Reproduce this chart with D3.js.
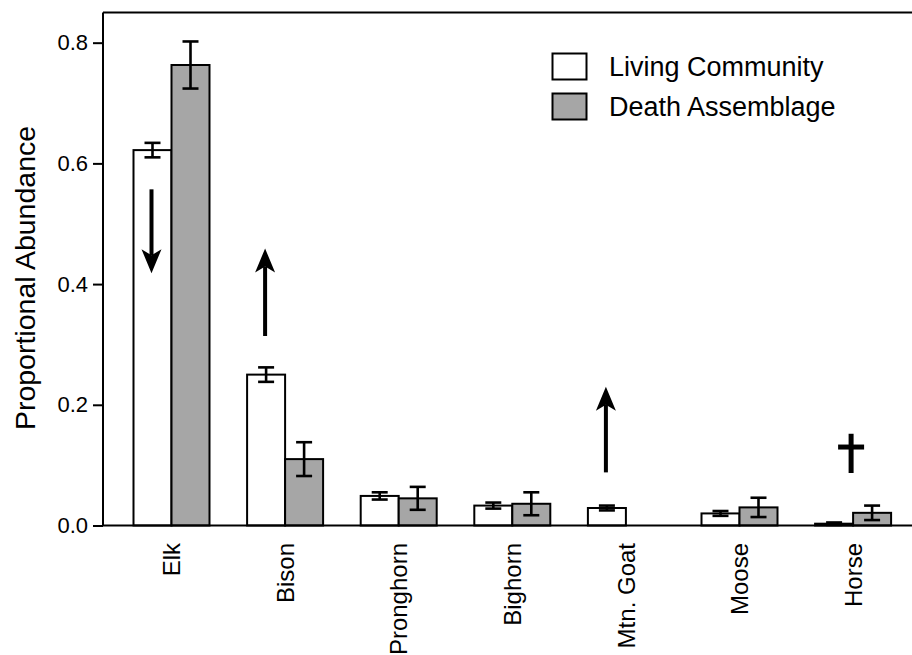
<!DOCTYPE html>
<html>
<head>
<meta charset="utf-8">
<script src="https://cdn.jsdelivr.net/npm/d3@7"></script>
<style>
  html, body { margin: 0; padding: 0; background: #fff; }
  svg { display: block; font-family: "Liberation Sans", Arial, sans-serif; }
</style>
</head>
<body>
<svg id="chart" width="912" height="655"></svg>
<script>
const categories = ["Elk", "Bison", "Pronghorn", "Bighorn", "Mtn. Goat", "Moose", "Horse"];
const seriesNames = ["Living Community", "Death Assemblage"];
const livingValues = [0.622, 0.250, 0.049, 0.033, 0.029, 0.020, 0.003];
const livingErrors = [0.012, 0.012, 0.006, 0.005, 0.004, 0.004, 0.002];
const deathValues  = [0.763, 0.110, 0.045, 0.036, 0.000, 0.030, 0.021];
const deathErrors  = [0.039, 0.028, 0.019, 0.019, 0.000, 0.016, 0.012];
const yTicks = [0.0, 0.2, 0.4, 0.6, 0.8];
// annotations: arrows over the living-community bars, dagger over horse
const arrowCats  = ["Elk", "Bison", "Mtn. Goat"];
const arrowFrom  = [0.557, 0.314, 0.088];
const arrowTo    = [0.418, 0.459, 0.230];
const daggerCat = "Horse";
const daggerTop = 0.152, daggerBottom = 0.087, daggerBar = 0.130;

const svg = d3.select("#chart");
const mLeft = 103, mRight = 915, mTop = 12.5, mBottom = 525.5;

const x0 = d3.scaleBand().domain(categories).range([114.7, 909.9])
  .paddingInner(0.331).paddingOuter(0.1655);
const x1 = d3.scaleBand().domain(seriesNames).range([0, x0.bandwidth()]).padding(0);
const y = d3.scaleLinear().domain([0, 0.85]).range([mBottom, mTop]);

const fills = { "Living Community": "#ffffff", "Death Assemblage": "#a6a6a6" };

const rows = [];
categories.forEach((c, i) => {
  rows.push({ cat: c, s: seriesNames[0], v: livingValues[i], e: livingErrors[i] });
  rows.push({ cat: c, s: seriesNames[1], v: deathValues[i], e: deathErrors[i] });
});
const drawn = rows.filter(d => d.v > 0);

// bars
svg.append("g").selectAll("rect").data(drawn).join("rect")
  .attr("x", d => x0(d.cat) + x1(d.s))
  .attr("y", d => y(d.v))
  .attr("width", x1.bandwidth())
  .attr("height", d => y(0) - y(d.v))
  .attr("fill", d => fills[d.s])
  .attr("stroke", "#000")
  .attr("stroke-width", 2);

// error bars
const eb = svg.append("g").attr("stroke", "#000").attr("stroke-width", 2.6);
drawn.forEach(d => {
  const cx = x0(d.cat) + x1(d.s) + x1.bandwidth() / 2;
  const cap = 8;
  eb.append("line").attr("x1", cx).attr("x2", cx).attr("y1", y(d.v + d.e)).attr("y2", y(d.v - d.e));
  eb.append("line").attr("x1", cx - cap).attr("x2", cx + cap).attr("y1", y(d.v + d.e)).attr("y2", y(d.v + d.e));
  eb.append("line").attr("x1", cx - cap).attr("x2", cx + cap).attr("y1", y(d.v - d.e)).attr("y2", y(d.v - d.e));
});

// frame
svg.append("line").attr("x1", mLeft).attr("x2", mRight).attr("y1", mTop).attr("y2", mTop)
  .attr("stroke", "#000").attr("stroke-width", 2);
svg.append("line").attr("x1", mLeft).attr("x2", mRight).attr("y1", mBottom).attr("y2", mBottom)
  .attr("stroke", "#000").attr("stroke-width", 2);

// y axis
const yAxis = d3.axisLeft(y).tickValues(yTicks).tickFormat(d3.format(".1f")).tickSize(10).tickPadding(5);
const ya = svg.append("g").attr("transform", `translate(${mLeft},0)`).call(yAxis);
ya.select(".domain").attr("stroke", "#000").attr("stroke-width", 2).attr("d", `M0,${mTop}V${mBottom}`);
ya.selectAll(".tick line").attr("stroke", "#000").attr("stroke-width", 2);
ya.selectAll(".tick text").attr("font-size", 22).attr("fill", "#000")
  .attr("font-family", "Liberation Sans, Arial, sans-serif");

// x labels
svg.append("g").selectAll("text").data(categories).join("text")
  .attr("transform", d => `translate(${x0(d) + x0.bandwidth() / 2},543) rotate(-90)`)
  .attr("text-anchor", "end")
  .attr("dy", "0.36em")
  .attr("font-size", 24)
  .attr("fill", "#000")
  .text(d => d);

// y label
svg.append("text")
  .attr("transform", "translate(25,278) rotate(-90)")
  .attr("text-anchor", "middle")
  .attr("dy", "0.36em")
  .attr("font-size", 28.5)
  .attr("fill", "#000")
  .text("Proportional Abundance");

// arrows
const ag = svg.append("g");
arrowCats.forEach((c, i) => {
  const cx = x0(c) + x1(seriesNames[0]) + x1.bandwidth() / 2 - 1;
  const ys = y(arrowFrom[i]), yt = y(arrowTo[i]);
  const dir = yt > ys ? 1 : -1;
  const headLen = 24, headHalf = 10, notch = 18;
  ag.append("line").attr("x1", cx).attr("x2", cx).attr("y1", ys).attr("y2", yt - dir * notch)
    .attr("stroke", "#000").attr("stroke-width", 4);
  ag.append("path")
    .attr("d", `M${cx},${yt} L${cx - headHalf},${yt - dir * headLen} L${cx},${yt - dir * notch} L${cx + headHalf},${yt - dir * headLen} Z`)
    .attr("fill", "#000");
});

// dagger
const dx = x0(daggerCat) + x0.bandwidth() / 2 - 2;
svg.append("line").attr("x1", dx).attr("x2", dx).attr("y1", y(daggerTop)).attr("y2", y(daggerBottom))
  .attr("stroke", "#000").attr("stroke-width", 5);
svg.append("line").attr("x1", dx - 13).attr("x2", dx + 13).attr("y1", y(daggerBar)).attr("y2", y(daggerBar))
  .attr("stroke", "#000").attr("stroke-width", 5);

// legend
const lg = svg.append("g").attr("transform", "translate(552.5,53.5)");
seriesNames.forEach((s, i) => {
  lg.append("rect").attr("x", 0).attr("y", i * 40).attr("width", 34).attr("height", 26)
    .attr("fill", fills[s]).attr("stroke", "#000").attr("stroke-width", 2);
  lg.append("text").attr("x", 56.5).attr("y", i * 40 + 13).attr("dy", "0.36em")
    .attr("font-size", 27).attr("fill", "#000").text(s);
});
</script>
</body>
</html>
